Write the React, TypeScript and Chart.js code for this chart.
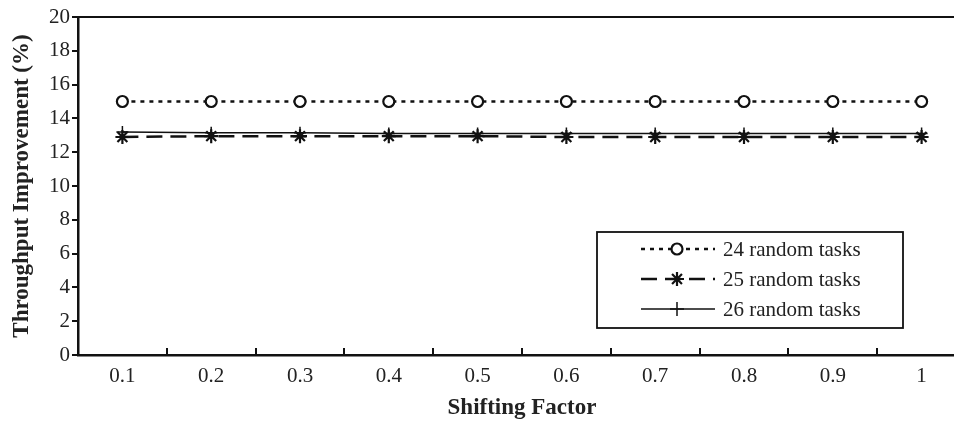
import React, { useEffect, useRef } from 'react';
import { Chart, registerables } from 'chart.js';

Chart.register(...registerables);

const categories = ['0.1', '0.2', '0.3', '0.4', '0.5', '0.6', '0.7', '0.8', '0.9', '1'];
const tasks24 = [15, 15, 15, 15, 15, 15, 15, 15, 15, 15];
const tasks25 = [12.9, 12.95, 12.95, 12.95, 12.95, 12.9, 12.9, 12.9, 12.9, 12.9];
const tasks26 = [13.2, 13.15, 13.15, 13.1, 13.1, 13.1, 13.1, 13.1, 13.1, 13.1];
const seriesLabels = ['24 random tasks', '25 random tasks', '26 random tasks'];
const yMin = 0;
const yMax = 20;
const yStep = 2;
const xTitle = 'Shifting Factor';
const yTitle = 'Throughput Improvement (%)';

const INK = '#111';
const TEXT = '#222';
const SERIF = "'Liberation Serif', 'Times New Roman', serif";

type Marker = 'circle' | 'star' | 'cross';

function drawMarker(ctx: CanvasRenderingContext2D, kind: Marker, x: number, y: number, r: number, lw: number) {
  ctx.save();
  ctx.setLineDash([]);
  ctx.strokeStyle = INK;
  ctx.lineWidth = lw;
  ctx.beginPath();
  if (kind === 'circle') {
    ctx.fillStyle = '#fff';
    ctx.arc(x, y, r, 0, Math.PI * 2);
    ctx.fill();
    ctx.stroke();
  } else if (kind === 'star') {
    const d = r * Math.SQRT1_2;
    ctx.moveTo(x, y - r); ctx.lineTo(x, y + r);
    ctx.moveTo(x - r, y); ctx.lineTo(x + r, y);
    ctx.moveTo(x - d, y - d); ctx.lineTo(x + d, y + d);
    ctx.moveTo(x - d, y + d); ctx.lineTo(x + d, y - d);
    ctx.stroke();
  } else {
    ctx.moveTo(x, y - r); ctx.lineTo(x, y + r);
    ctx.moveTo(x - r, y); ctx.lineTo(x + r, y);
    ctx.stroke();
  }
  ctx.restore();
}

const legendSpec: { dash: number[]; marker: Marker; lw: number; r: number; mlw: number }[] = [
  { dash: [4, 5], marker: 'circle', lw: 2.5, r: 5.5, mlw: 2.2 },
  { dash: [16, 8], marker: 'star', lw: 2.5, r: 7, mlw: 2.2 },
  { dash: [], marker: 'cross', lw: 1.5, r: 7, mlw: 1.5 },
];

const framePlugin = {
  id: 'frameAndTicks',
  afterDraw(chart: any) {
    const { ctx, chartArea: ca } = chart;
    const xs = chart.scales.x;
    ctx.save();
    ctx.strokeStyle = INK;
    ctx.lineWidth = 2;
    ctx.beginPath();
    ctx.moveTo(ca.left, ca.top);
    ctx.lineTo(ca.right, ca.top);
    ctx.lineTo(ca.right, ca.bottom);
    ctx.stroke();
    const half = (xs.getPixelForValue(1) - xs.getPixelForValue(0)) / 2;
    ctx.beginPath();
    for (let i = 1; i <= categories.length; i++) {
      const x = Math.round(xs.getPixelForValue(i) - half);
      ctx.moveTo(x, ca.bottom);
      ctx.lineTo(x, ca.bottom - 7);
    }
    ctx.stroke();

    const boxW = 306;
    const boxH = 96;
    const boxL = ca.right - 63 - boxW;
    const boxT = ca.bottom - 27 - boxH;
    ctx.fillStyle = '#fff';
    ctx.fillRect(boxL, boxT, boxW, boxH);
    ctx.lineWidth = 1.8;
    ctx.strokeStyle = INK;
    ctx.strokeRect(boxL, boxT, boxW, boxH);
    ctx.font = `21px ${SERIF}`;
    ctx.fillStyle = TEXT;
    ctx.textBaseline = 'middle';
    ctx.textAlign = 'left';
    legendSpec.forEach((s, i) => {
      const y = boxT + 17 + i * 30;
      ctx.save();
      ctx.lineWidth = s.lw;
      ctx.setLineDash(s.dash);
      ctx.beginPath();
      ctx.moveTo(boxL + 44, y);
      ctx.lineTo(boxL + 118, y);
      ctx.stroke();
      ctx.restore();
      drawMarker(ctx, s.marker, boxL + 80, y, s.r, s.mlw);
      ctx.fillText(seriesLabels[i], boxL + 126, y + 1);
    });
    ctx.restore();
  },
};

export default function App() {
  const ref = useRef<HTMLCanvasElement>(null);
  useEffect(() => {
    if (!ref.current) return;
    const chart = new Chart(ref.current, {
      type: 'line',
      data: {
        labels: categories,
        datasets: [
          {
            label: seriesLabels[0],
            data: tasks24,
            borderColor: INK,
            borderWidth: 2.5,
            borderDash: [4, 5],
            pointStyle: 'circle',
            pointRadius: 5.5,
            pointBorderWidth: 2.2,
            pointBackgroundColor: '#fff',
            pointBorderColor: INK,
            tension: 0,
          },
          {
            label: seriesLabels[1],
            data: tasks25,
            borderColor: INK,
            borderWidth: 2.5,
            borderDash: [16, 8],
            pointStyle: 'star',
            pointRadius: 7,
            pointBorderWidth: 2.2,
            pointBackgroundColor: INK,
            pointBorderColor: INK,
            tension: 0,
          },
          {
            label: seriesLabels[2],
            data: tasks26,
            borderColor: INK,
            borderWidth: 1.5,
            pointStyle: 'cross',
            pointRadius: 6,
            pointBorderWidth: 1.5,
            pointBorderColor: INK,
            tension: 0,
          },
        ],
      },
      options: {
        animation: false,
        responsive: false,
        devicePixelRatio: 1,
        layout: { autoPadding: false, padding: { top: 17, right: 0, bottom: 0, left: 0 } },
        plugins: {
          legend: { display: false },
          tooltip: { enabled: false },
        },
        scales: {
          x: {
            offset: true,
            grid: { display: true, offset: true, drawOnChartArea: false, drawTicks: false },
            border: { display: true, color: INK, width: 2.5 },
            ticks: { color: TEXT, font: { family: SERIF, size: 21 }, padding: 9, maxRotation: 0 },
            title: {
              display: true,
              text: xTitle,
              color: TEXT,
              font: { family: SERIF, size: 23, weight: 'bold' },
              padding: { top: 0, bottom: 3 },
            },
            afterFit: (s: any) => { s.height = 70; },
          },
          y: {
            min: yMin,
            max: yMax,
            grid: { display: true, drawOnChartArea: false, drawTicks: true, tickLength: 6, color: INK, lineWidth: 2 },
            border: { display: true, color: INK, width: 2.5 },
            ticks: { stepSize: yStep, color: TEXT, font: { family: SERIF, size: 21 }, padding: 2 },
            title: {
              display: true,
              text: yTitle,
              color: TEXT,
              font: { family: SERIF, size: 23, weight: 'bold' },
              padding: { top: 8, bottom: 0 },
            },
            afterFit: (s: any) => { s.width = 78; },
          },
        },
      } as any,
      plugins: [framePlugin],
    });
    return () => chart.destroy();
  }, []);
  return (
    <div style={{ position: 'fixed', left: 0, top: 0, width: 954, height: 425, overflow: 'hidden', background: '#fff' }}>
      <div style={{ position: 'relative', width: 966, height: 425 }}>
        <canvas ref={ref} width={966} height={425} style={{ display: 'block', width: 966, height: 425 }} />
      </div>
    </div>
  );
}
